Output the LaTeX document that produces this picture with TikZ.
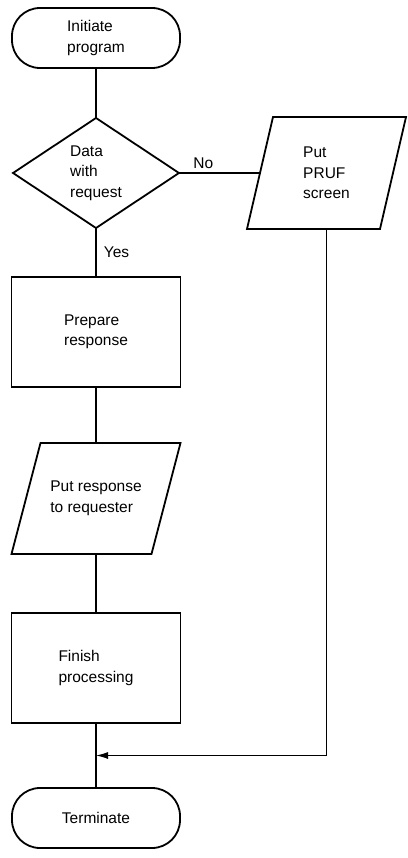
\documentclass[tikz,border=0pt]{standalone}
\usepackage{fontspec}
\setmainfont{Liberation Sans}
\usetikzlibrary{positioning,arrows.meta,shapes.geometric,calc}

\begin{document}
\begin{tikzpicture}[
  x=1pt, y=1pt,
  font=\fontsize{15.5}{20.5}\selectfont,
  node distance=50pt and 81pt,
  box/.style={draw, line width=1.8pt, outer sep=0pt, minimum width=169pt, minimum height=110pt, align=left},
  endbox/.style={draw, line width=1.8pt, outer sep=0pt, rounded corners=28pt, minimum width=168pt, minimum height=60pt, align=left},
  decision/.style={draw, line width=1.8pt, outer sep=0pt, diamond, aspect=1.5, inner sep=0pt, minimum width=166pt, minimum height=110pt, align=left},
  io/.style={outer sep=0pt, inner sep=0pt, minimum width=138pt, minimum height=111pt, align=left},
  outline/.style={draw, line width=1.8pt, line join=miter},
  link/.style={line width=1.1pt},
  arr/.style={-{Latex[length=12pt,width=7pt]}, line width=1.1pt}
]
\useasboundingbox (0,0) rectangle (407,-858);

\node[endbox] (start) at (96,-38) {Initiate\\program};
\node[decision, below=of start] (check) {Data\\with\\request};
\node[io, minimum width=133pt, minimum height=112pt, right=of check] (pruf) {Put\\PRUF\\screen};
\node[box, below=49pt of check] (prep) {Prepare\\response};
\node[io, minimum width=140pt, below=56pt of prep] (reply) {Put response\\to requester};
\node[box, below=59pt of reply] (finish) {Finish\\processing};
\node[endbox, below=65pt of finish] (stop) {Terminate};
\coordinate (merge) at ($(finish.south)!0.5!(stop.north)$);

% slanted input/output boxes
\draw[outline] ($(pruf.north west)+(13pt,0)$) -- ($(pruf.north east)+(13pt,0)$)
  -- ($(pruf.south east)+(-13pt,0)$) -- ($(pruf.south west)+(-13pt,0)$) -- cycle;
\draw[outline] ($(reply.north west)+(14.5pt,0)$) -- ($(reply.north east)+(14.5pt,0)$)
  -- ($(reply.south east)+(-14.5pt,0)$) -- ($(reply.south west)+(-14.5pt,0)$) -- cycle;

\draw[link] (start) -- (check);
\draw[link] (check) -- node[pos=0.3, above] {No} (pruf);
\draw[link] (check) -- node[right=4pt] {Yes} (prep);
\draw[link] (prep) -- (reply);
\draw[link] (reply) -- (finish);
\draw[link] (finish) -- (stop);
\draw[arr] (pruf.south) |- (merge);
\end{tikzpicture}
\end{document}
